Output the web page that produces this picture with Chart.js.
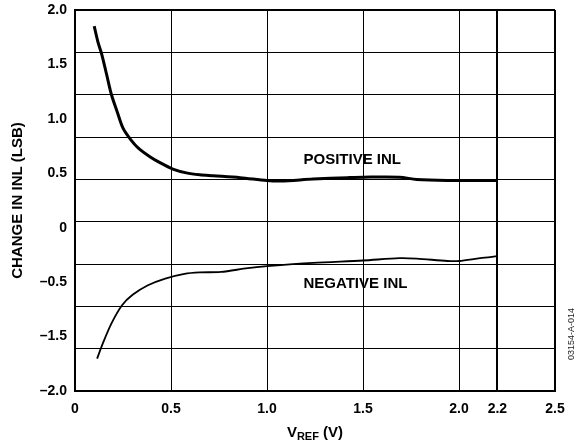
<!DOCTYPE html>
<html>
<head>
<meta charset="utf-8">
<script src="https://cdn.jsdelivr.net/npm/chart.js@4.4.1/dist/chart.umd.min.js"></script>
<style>
  html, body { margin: 0; padding: 0; background: #fff; }
  #wrap { width: 584px; height: 448px; position: relative; }
</style>
</head>
<body>
<div id="wrap"><canvas id="inlChart"></canvas></div>
<script>
// values (V, LSB in the plot's linear units)
const posVref = [0.10, 0.12, 0.14, 0.165, 0.19, 0.22, 0.25, 0.29, 0.33, 0.39, 0.44, 0.51, 0.58, 0.65, 0.72, 0.86, 1.00, 1.07, 1.24, 1.42, 1.50, 1.69, 1.78, 1.94, 2.20];
const posInl  = [1.83, 1.66, 1.53, 1.32, 1.11, 0.93, 0.76, 0.64, 0.55, 0.46, 0.40, 0.33, 0.29, 0.27, 0.26, 0.24, 0.21, 0.205, 0.225, 0.24, 0.245, 0.245, 0.22, 0.21, 0.21];
const negVref = [0.115, 0.145, 0.19, 0.245, 0.30, 0.38, 0.47, 0.57, 0.65, 0.76, 0.90, 1.00, 1.24, 1.50, 1.69, 1.78, 1.94, 2.00, 2.11, 2.20];
const negInl  = [-1.66, -1.50, -1.29, -1.10, -0.99, -0.89, -0.82, -0.77, -0.755, -0.75, -0.71, -0.69, -0.655, -0.63, -0.605, -0.61, -0.635, -0.635, -0.605, -0.585];

const xTicks = [0, 0.5, 1.0, 1.5, 2.0, 2.2, 2.5];
const xTickLabels = ['0', '0.5', '1.0', '1.5', '2.0', '2.2', '2.5'];
const yTickLabels = ['2.0', '1.5', '1.0', '0.5', '0', '–0.5', '–1.5', '–2.0'];
const yGridDivisions = 9;
const yMin = -2, yMax = 2;

const notes = [
  { text: 'POSITIVE INL', x: 1.19, y: 0.43 },
  { text: 'NEGATIVE INL', x: 1.19, y: -0.87 }
];

const FONT = "'Liberation Sans', Arial, Helvetica, sans-serif";

const yLabelVals = yTickLabels.map((t, i) => yMax - i * (yMax - yMin) / (yTickLabels.length - 1));
const yGridVals = Array.from({ length: yGridDivisions + 1 }, (_, i) => yMin + i * (yMax - yMin) / yGridDivisions);
const near = (a, b) => Math.abs(a - b) < 1e-6;

const toPoints = (xs, ys) => xs.map((x, i) => ({ x: x, y: ys[i] }));

const extrasPlugin = {
  id: 'extras',
  afterDraw(chart) {
    const { ctx, chartArea, scales } = chart;
    ctx.save();
    ctx.fillStyle = '#000';
    ctx.textBaseline = 'middle';
    ctx.font = 'bold 15px ' + FONT;
    notes.forEach(n => {
      ctx.textAlign = 'left';
      ctx.fillText(n.text, scales.x.getPixelForValue(n.x), scales.y.getPixelForValue(n.y));
    });

    // x axis title with subscript
    const cx = (chartArea.left + chartArea.right) / 2;
    const ty = 433;
    const big = 'bold 15px ' + FONT, small = 'bold 11px ' + FONT;
    ctx.font = big; const wV = ctx.measureText('V').width; const wT = ctx.measureText(' (V)').width;
    ctx.font = small; const wS = ctx.measureText('REF').width;
    let x0 = cx - (wV + wS + wT) / 2;
    ctx.textAlign = 'left';
    ctx.font = big; ctx.fillText('V', x0, ty);
    ctx.font = small; ctx.fillText('REF', x0 + wV, ty + 4);
    ctx.font = big; ctx.fillText(' (V)', x0 + wV + wS, ty);

    // figure code
    ctx.translate(572, 334);
    ctx.rotate(-Math.PI / 2);
    ctx.textAlign = 'center';
    ctx.fillStyle = '#222';
    ctx.font = '9px ' + FONT;
    ctx.fillText('03154-A-014', 0, 0);
    ctx.restore();
  }
};

new Chart(document.getElementById('inlChart'), {
  type: 'line',
  data: {
    datasets: [
      { label: 'Positive INL', data: toPoints(posVref, posInl), borderColor: '#000', borderWidth: 3, pointRadius: 0, tension: 0.3, fill: false },
      { label: 'Negative INL', data: toPoints(negVref, negInl), borderColor: '#000', borderWidth: 1.8, pointRadius: 0, tension: 0.3, fill: false }
    ]
  },
  options: {
    responsive: true, maintainAspectRatio: false, animation: false,
    layout: { padding: { left: 0, right: 29, top: 10, bottom: 0 } },
    plugins: { legend: { display: false }, tooltip: { enabled: false } },
    scales: {
      x: {
        type: 'linear', min: 0, max: 2.5,
        afterBuildTicks: s => { s.ticks = xTicks.map(v => ({ value: v })); },
        afterFit: s => { s.height = 57; s.paddingLeft = 0; s.paddingRight = 0; },
        grid: {
          color: '#000', drawTicks: false,
          lineWidth: c => (c.tick && (near(c.tick.value, 2.2) || near(c.tick.value, 2.5))) ? 2 : 1
        },
        border: { display: true, color: '#000', width: 2 },
        ticks: {
          color: '#000', padding: 10, maxRotation: 0,
          font: { family: FONT, size: 14, weight: 'bold' },
          callback: v => xTickLabels[xTicks.findIndex(t => near(t, v))]
        }
      },
      y: {
        type: 'linear', min: yMin, max: yMax,
        afterBuildTicks: s => {
          const vals = yGridVals.slice();
          yLabelVals.forEach(v => { if (!vals.some(g => near(g, v))) vals.push(v); });
          vals.sort((a, b) => a - b);
          s.ticks = vals.map(v => ({ value: v }));
        },
        afterFit: s => { s.width = 75; s.paddingTop = 0; s.paddingBottom = 0; },
        grid: {
          drawTicks: false,
          color: c => (c.tick && yGridVals.some(g => near(g, c.tick.value))) ? '#000' : 'rgba(0,0,0,0)',
          lineWidth: c => (c.tick && near(c.tick.value, yMax)) ? 2 : 1
        },
        border: { display: true, color: '#000', width: 2 },
        title: {
          display: true, text: 'CHANGE IN INL (LSB)', color: '#000',
          font: { family: FONT, size: 15, weight: 'bold' },
          padding: { top: 9, bottom: 0 }
        },
        ticks: {
          color: '#000', padding: 8, autoSkip: false,
          font: { family: FONT, size: 14, weight: 'bold' },
          callback: v => {
            const i = yLabelVals.findIndex(l => near(l, v));
            return i >= 0 ? yTickLabels[i] : '';
          }
        }
      }
    }
  },
  plugins: [extrasPlugin]
});
</script>
</body>
</html>
